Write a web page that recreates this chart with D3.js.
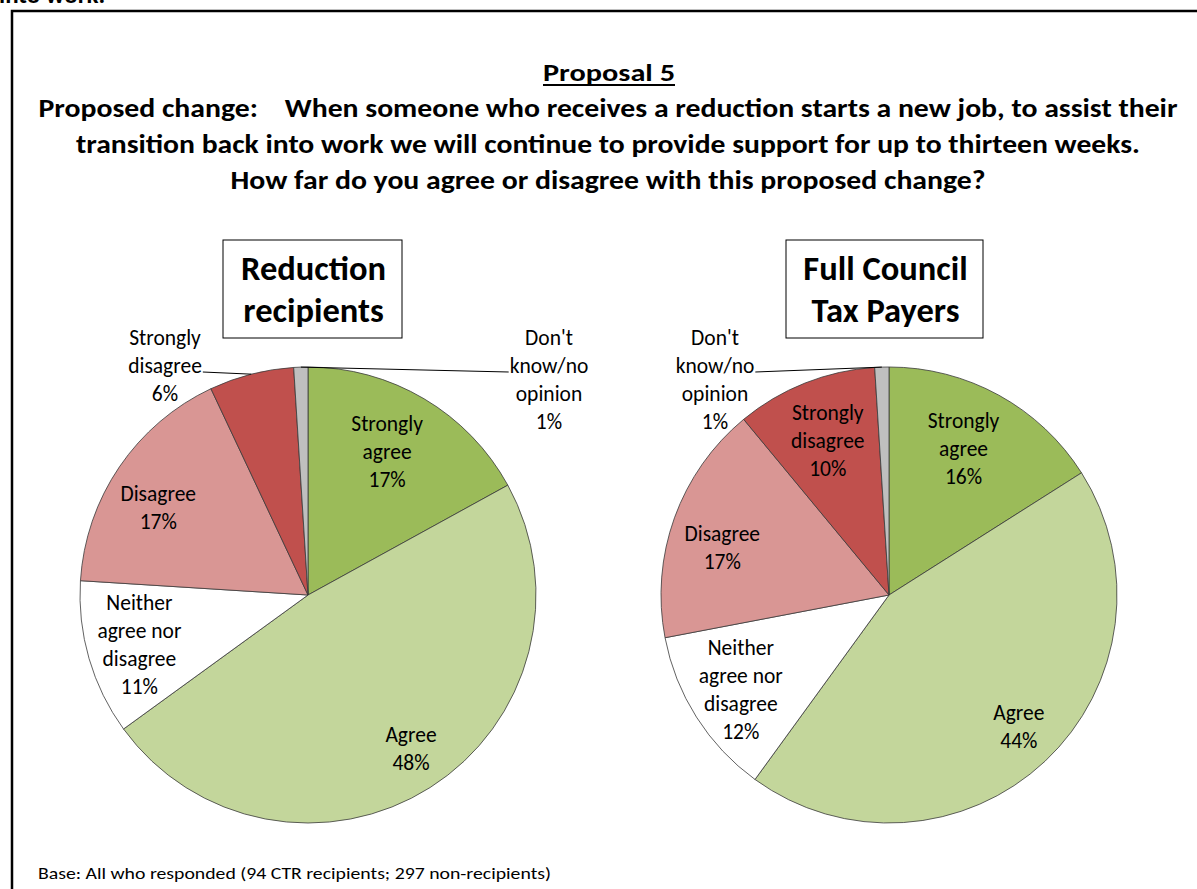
<!DOCTYPE html>
<html>
<head>
<meta charset="utf-8">
<script src="https://cdn.jsdelivr.net/npm/d3@7"></script>
<style>
  html, body { margin: 0; padding: 0; background: #fff; }
  svg { display: block; }
  text { font-family: Carlito, Calibri, Lato, "Noto Sans", sans-serif; fill: #000; }
  .pre { white-space: pre; }
</style>
</head>
<body>
<svg id="chart" width="1197" height="889"></svg>
<script>
// Response categories, in the order the slices run clockwise from 12 o'clock
const categories = [
  "Strongly agree",
  "Agree",
  "Neither agree nor disagree",
  "Disagree",
  "Strongly disagree",
  "Don't know/no opinion"
];

// Percentage of respondents in each category
const recipientsPct = [17, 48, 11, 17, 6, 1];
const taxPayersPct  = [16, 44, 12, 17, 10, 1];

// Wrapped category text used in the slice labels
const labelLines = [
  ["Strongly", "agree"],
  ["Agree"],
  ["Neither", "agree nor", "disagree"],
  ["Disagree"],
  ["Strongly", "disagree"],
  ["Don't", "know/no", "opinion"]
];

const chartTitles = [["Reduction", "recipients"], ["Full Council", "Tax Payers"]];

const titleLines = [
  "Proposed change:    When someone who receives a reduction starts a new job, to assist their",
  "transition back into work we will continue to provide support for up to thirteen weeks.",
  "How far do you agree or disagree with this proposed change?"
];

const baseNote = "Base: All who responded (94 CTR recipients; 297 non-recipients)";

const sliceColors = ["#9BBB59", "#C3D69B", "#FFFFFF", "#D99694", "#C0504D", "#BFBFBF"];

const svg = d3.select("#chart");

// Heading text cut by the page edge above the frame
svg.append("text")
  .attr("x", -1).attr("y", 3)
  .attr("font-size", 25).attr("font-weight", "bold")
  .text("into work.");

// Outer frame
svg.append("rect")
  .attr("x", 12).attr("y", 11)
  .attr("width", 1220).attr("height", 920)
  .attr("fill", "none").attr("stroke", "#000").attr("stroke-width", 2.5);

// Heading block
const head = svg.append("g");
const p5 = head.append("text")
  .attr("x", 609).attr("y", 81)
  .attr("text-anchor", "middle")
  .attr("font-size", 25).attr("font-weight", "bold")
  .attr("textLength", 132)
  .attr("lengthAdjust", "spacingAndGlyphs")
  .text("Proposal 5");
{
  const bb = p5.node().getBBox();
  head.append("line")
    .attr("x1", bb.x).attr("x2", bb.x + bb.width)
    .attr("y1", 85).attr("y2", 85)
    .attr("stroke", "#000").attr("stroke-width", 2);
}
const titleWidths = [1139, 1064, 755];
titleLines.forEach((t, i) => {
  head.append("text")
    .attr("class", "pre")
    .attr("x", 608).attr("y", 117 + i * 36)
    .attr("text-anchor", "middle")
    .attr("font-size", 25.5).attr("font-weight", "bold")
    .attr("textLength", titleWidths[i])
    .attr("lengthAdjust", "spacingAndGlyphs")
    .text(t);
});

// Footnote
svg.append("text")
  .attr("x", 38).attr("y", 879)
  .attr("font-size", 17)
  .attr("textLength", 513)
  .attr("lengthAdjust", "spacingAndGlyphs")
  .text(baseNote);

// Pie layout shared by both charts
const R = 228;
const pie = d3.pie().sort(null).value(d => d.value).startAngle(0).endAngle(2 * Math.PI);
const arc = d3.arc().innerRadius(0).outerRadius(R);

// Inside-label placement: distance (fraction of R) and angular nudge (degrees) from the mid-angle
const insideLabelRadius = [0.72, 0.81, 0.77, 0.76, 0.73, 0.75];
const insideLabelNudge  = [-1.8, -1.5, 0, -4, 0, 0];
const lineH = 28;

const charts = [
  {
    values: recipientsPct, cx: 308, cy: 595,
    titleBox: { x: 223, y: 240, w: 179, h: 98 },
    // labels placed outside the pie, offset from the centre, with leader lines
    outside: { 4: { dx: -143, dy: -230, side: "right" }, 5: { dx: 241, dy: -216, side: "left" } }
  },
  {
    values: taxPayersPct, cx: 889, cy: 595,
    titleBox: { x: 786, y: 240, w: 197, h: 98 },
    outside: { 5: { dx: -174, dy: -216, side: "right" } }
  }
];

charts.forEach((c, ci) => {
  const data = categories.map((name, i) => ({ name, value: c.values[i], i }));
  const arcs = pie(data);
  const g = svg.append("g").attr("transform", `translate(${c.cx},${c.cy})`);

  g.selectAll("path.slice")
    .data(arcs)
    .join("path")
    .attr("class", "slice")
    .attr("d", arc)
    .attr("fill", d => sliceColors[d.data.i])
    .attr("stroke", "#3a3a3a")
    .attr("stroke-width", 0.8)
    .attr("stroke-linejoin", "round");

  arcs.forEach(d => {
    const i = d.data.i;
    const mid = (d.startAngle + d.endAngle) / 2;
    const lines = labelLines[i].concat([d.data.value + "%"]);
    let lx, ly;
    const out = c.outside[i];
    if (out) { lx = out.dx; ly = out.dy; }
    else {
      const r = insideLabelRadius[i] * R;
      const a = mid + insideLabelNudge[i] * Math.PI / 180;
      lx = Math.sin(a) * r;
      ly = -Math.cos(a) * r;
    }
    const t = g.append("text")
      .attr("text-anchor", "middle")
      .attr("font-size", 21.5);
    lines.forEach((s, k) => {
      t.append("tspan")
        .attr("x", lx)
        .attr("y", ly + (k - (lines.length - 1) / 2) * lineH)
        .attr("dy", "0.35em")
        .text(s);
    });
    if (out) {
      // leader from the second label line to the slice edge
      const tsp = t.selectAll("tspan").nodes()[1];
      const bb = tsp.getBBox();
      const sx = out.side === "right" ? bb.x + bb.width + 1 : bb.x - 1;
      const sy = ly - lineH * ((lines.length - 1) / 2 - 1) + 7;
      g.insert("line", "text")
        .attr("x1", sx).attr("y1", sy)
        .attr("x2", Math.sin(mid) * R).attr("y2", -Math.cos(mid) * R)
        .attr("stroke", "#000").attr("stroke-width", 1);
    }
  });

  // Chart title box
  const tb = c.titleBox;
  svg.append("rect")
    .attr("x", tb.x).attr("y", tb.y).attr("width", tb.w).attr("height", tb.h)
    .attr("fill", "#fff").attr("stroke", "#000").attr("stroke-width", 1);
  chartTitles[ci].forEach((s, k) => {
    svg.append("text")
      .attr("x", tb.x + tb.w / 2 + 1)
      .attr("y", tb.y + 40 + k * 42)
      .attr("text-anchor", "middle")
      .attr("font-size", 34.5).attr("font-weight", "bold")
      .text(s);
  });
});
</script>
</body>
</html>
